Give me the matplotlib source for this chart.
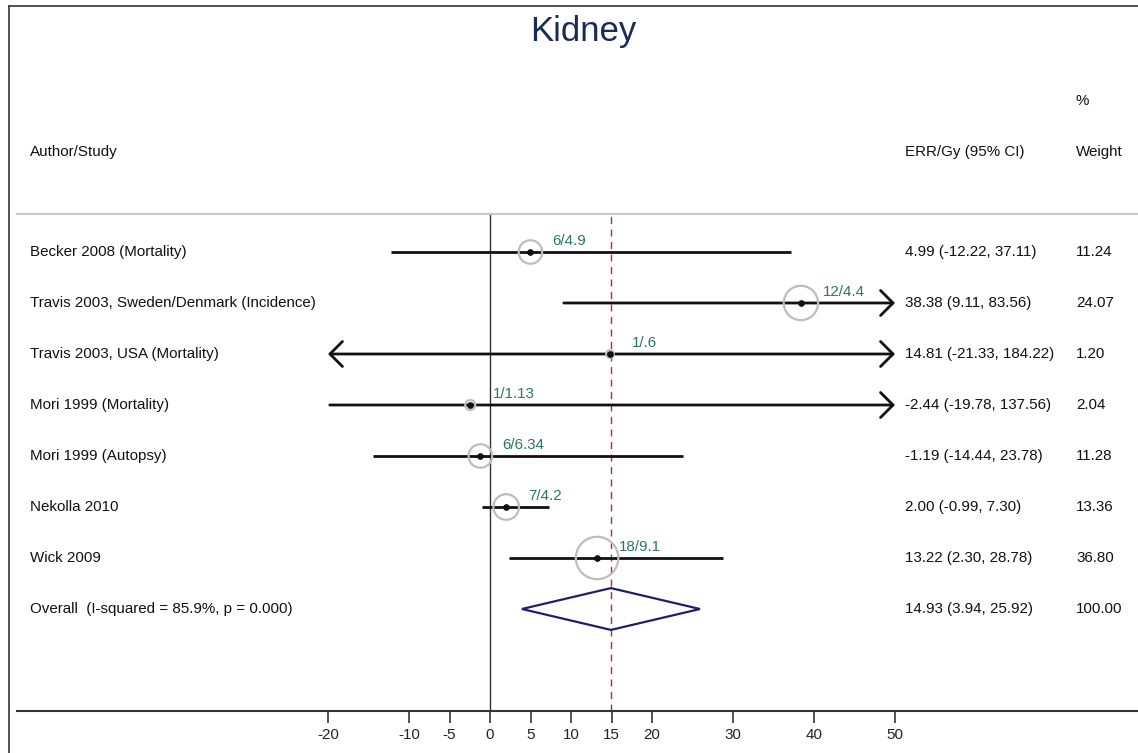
import matplotlib
matplotlib.use("Agg")
import matplotlib.pyplot as plt
from matplotlib.transforms import blended_transform_factory
from matplotlib.lines import Line2D

plt.rcParams['font.family'] = ['Liberation Sans', 'DejaVu Sans']

# ---------------- data ----------------
studies = ["Becker 2008 (Mortality)",
           "Travis 2003, Sweden/Denmark (Incidence)",
           "Travis 2003, USA (Mortality)",
           "Mori 1999 (Mortality)",
           "Mori 1999 (Autopsy)",
           "Nekolla 2010",
           "Wick 2009"]
err = [4.99, 38.38, 14.81, -2.44, -1.19, 2.00, 13.22]
ci_low = [-12.22, 9.11, -21.33, -19.78, -14.44, -0.99, 2.30]
ci_high = [37.11, 83.56, 184.22, 137.56, 23.78, 7.30, 28.78]
weights = [11.24, 24.07, 1.20, 2.04, 11.28, 13.36, 36.80]
cases = ["6/4.9", "12/4.4", "1/.6", "1/1.13", "6/6.34", "7/4.2", "18/9.1"]
ci_text = ["4.99 (-12.22, 37.11)", "38.38 (9.11, 83.56)", "14.81 (-21.33, 184.22)",
           "-2.44 (-19.78, 137.56)", "-1.19 (-14.44, 23.78)", "2.00 (-0.99, 7.30)",
           "13.22 (2.30, 28.78)"]
weight_text = ["11.24", "24.07", "1.20", "2.04", "11.28", "13.36", "36.80"]
overall_label = "Overall  (I-squared = 85.9%, p = 0.000)"
overall_est = 14.93
overall_low = 3.94
overall_high = 25.92
overall_ci_text = "14.93 (3.94, 25.92)"
overall_weight_text = "100.00"
xticks = [-20, -10, -5, 0, 5, 10, 15, 20, 30, 40, 50]
x_min_clip, x_max_clip = -20, 50

# ---------------- figure ----------------
W, H = 1138, 753
fig = plt.figure(figsize=(W / 100, H / 100), dpi=100)

def fx(px):
    return px / W

def fy(py):
    return 1 - py / H

# frame lines (top & left)
fig.add_artist(Line2D([fx(9), fx(1138)], [fy(6), fy(6)], transform=fig.transFigure,
                      color='#333333', lw=1.2))
fig.add_artist(Line2D([fx(9), fx(9)], [fy(6), fy(753)], transform=fig.transFigure,
                      color='#333333', lw=1.2))
# separator line
fig.add_artist(Line2D([fx(17), fx(1138)], [fy(214), fy(214)], transform=fig.transFigure,
                      color='#c8c8c8', lw=1.5))

ax = fig.add_axes([fx(17), fy(711), fx(1138) - fx(17), (711 - 214) / H])
ax.set_xlim((17 - 490) / 8.1, (1138 - 490) / 8.1)
ax.set_ylim(9.0, -0.745)
for s in ['top', 'left', 'right']:
    ax.spines[s].set_visible(False)
ax.spines['bottom'].set_color('#333333')
ax.spines['bottom'].set_linewidth(1.5)
ax.set_yticks([])
ax.set_xticks(xticks)
ax.set_xticklabels([str(t) for t in xticks], fontsize=10.9, color='#222222')
ax.tick_params(axis='x', direction='out', length=8.5, width=1.2, color='#333333', pad=4)
ax.patch.set_alpha(0)

# reference lines
ax.axvline(0, color='#333333', lw=1.0, zorder=1)
ax.axvline(overall_est, color='#b8283a', lw=1.0, ls=(0, (5, 4)), zorder=1)

teal = '#2b7568'
for i, (e, lo, hi, w, c) in enumerate(zip(err, ci_low, ci_high, weights, cases)):
    lo_d = max(lo, x_min_clip)
    hi_d = min(hi, x_max_clip)
    left_arrow = lo < x_min_clip
    right_arrow = hi > x_max_clip
    style = {(False, False): '-', (False, True): '->', (True, False): '<-',
             (True, True): '<->'}[(left_arrow, right_arrow)]
    if style == '-':
        ax.plot([lo_d, hi_d], [i, i], color='#111111', lw=2.0, solid_capstyle='butt', zorder=3)
    else:
        ax.annotate('', xy=(hi_d, i), xytext=(lo_d, i),
                    arrowprops=dict(arrowstyle=style + ',head_length=9,head_width=9',
                                    mutation_scale=1, color='#111111', lw=2.0,
                                    shrinkA=0, shrinkB=0), zorder=3)
    ax.scatter([e], [i], s=25.4 * w, facecolors='none', edgecolors='#bdbdbd',
               linewidths=1.6, zorder=4)
    ax.plot([e], [i], 'o', color='#111111', ms=3.8, zorder=5)
    ax.annotate(c, xy=(e, i), xytext=(16, 8), textcoords='offset points',
                ha='left', va='center', color=teal, fontsize=10.9, zorder=6)

# overall diamond
n = len(studies)
ax.fill([overall_low, overall_est, overall_high, overall_est],
        [n, n - 0.41, n, n + 0.41], facecolor='none', edgecolor='#1f1f6e', lw=1.6, zorder=3)

# text columns
tr = blended_transform_factory(fig.transFigure, ax.transData)
fs = 10.9
labels_all = studies + [overall_label]
ci_all = ci_text + [overall_ci_text]
w_all = weight_text + [overall_weight_text]
for i in range(n + 1):
    ax.text(fx(30), i, labels_all[i], transform=tr, ha='left', va='center', fontsize=fs,
            color='#111111', clip_on=False)
    ax.text(fx(905), i, ci_all[i], transform=tr, ha='left', va='center', fontsize=fs,
            color='#111111', clip_on=False)
    ax.text(fx(1076), i, w_all[i], transform=tr, ha='left', va='center', fontsize=fs,
            color='#111111', clip_on=False)

# headers
fig.text(fx(583), fy(31), "Kidney", ha='center', va='center', fontsize=25, color='#1b2a57')
fig.text(fx(30), fy(152), "Author/Study", ha='left', va='center', fontsize=fs, color='#111111')
fig.text(fx(905), fy(152), "ERR/Gy (95% CI)", ha='left', va='center', fontsize=fs, color='#111111')
fig.text(fx(1076), fy(101), "%", ha='left', va='center', fontsize=fs, color='#111111')
fig.text(fx(1076), fy(152), "Weight", ha='left', va='center', fontsize=fs, color='#111111')

fig.savefig("out.png", dpi=100)
